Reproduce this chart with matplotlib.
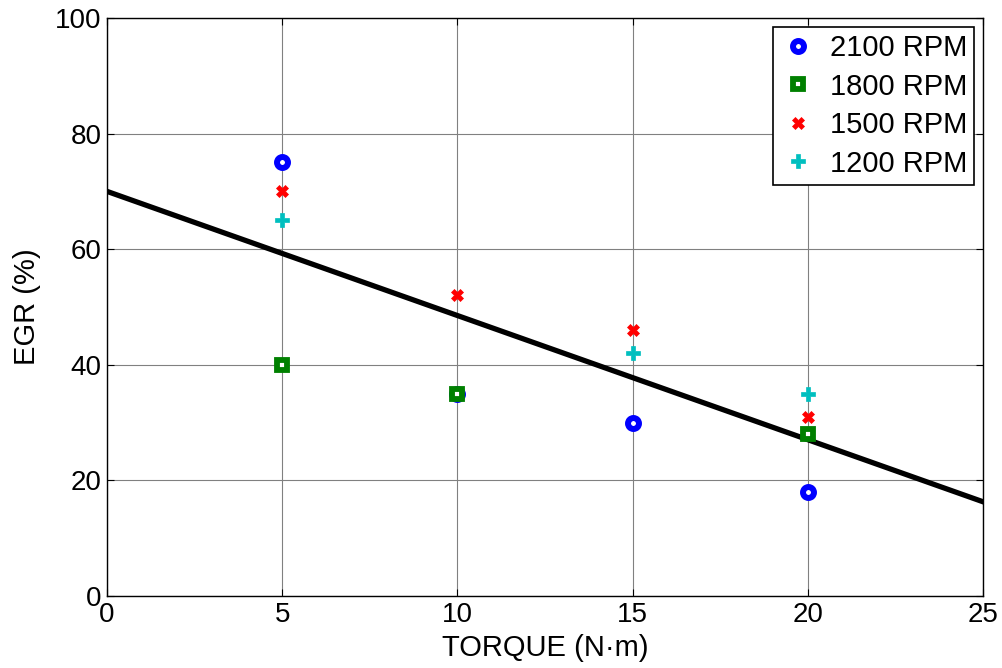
import matplotlib
matplotlib.use("Agg")
import matplotlib.pyplot as plt

plt.rcParams['font.family'] = ['Liberation Sans', 'DejaVu Sans']

x2100 = [5, 10, 15, 20]
y2100 = [75, 35, 30, 18]
x1800 = [5, 10, 20]
y1800 = [40, 35, 28]
x1500 = [5, 10, 15, 20]
y1500 = [70, 52, 46, 31]
x1200 = [5, 15, 20]
y1200 = [65, 42, 35]
fit_x = [0, 25]
fit_y = [70, 16.3]

fig = plt.figure(figsize=(10.03, 6.68), dpi=100)
ax = fig.add_axes([0.1067, 0.1078, 0.8734, 0.8653])

ax.plot(fit_x, fit_y, color='black', lw=3.8, zorder=2)
ax.plot(x2100, y2100, 'o', ms=7.9, mfc='white', mec='blue', mew=4.3, ls='none', label='2100 RPM', zorder=3)
ax.plot(x1800, y1800, 's', ms=7.4, mfc='white', mec='green', mew=4.2, ls='none', label='1800 RPM', zorder=4)
ax.plot(x1500, y1500, 'X', ms=8.8, color='red', mec='red', mew=0.5, ls='none', label='1500 RPM', zorder=5)
ax.plot(x1200, y1200, 'P', ms=9.8, color='#00BFBF', mec='#00BFBF', mew=0.5, ls='none', label='1200 RPM', zorder=5)

ax.set_xlim(0, 25)
ax.set_ylim(0, 100)
ax.set_xticks([0, 5, 10, 15, 20, 25])
ax.set_yticks([0, 20, 40, 60, 80, 100])
ax.grid(True, color='#808080', lw=0.8)
ax.set_axisbelow(True)
ax.tick_params(labelsize=20, direction='in', length=5, top=True, right=True, pad=4)
ax.set_xlabel('TORQUE (N·m)', fontsize=21, labelpad=5)
ax.set_ylabel('EGR (%)', fontsize=21, labelpad=10)
for s in ax.spines.values():
    s.set_linewidth(1.0)

leg = ax.legend(loc='upper right', fontsize=21, frameon=True, fancybox=False,
                edgecolor='black', framealpha=1, borderaxespad=0.3,
                handletextpad=0.5, labelspacing=0.36, borderpad=0.25, handlelength=1.2)
leg.get_frame().set_linewidth(1.2)

fig.savefig('out.png', dpi=100)
